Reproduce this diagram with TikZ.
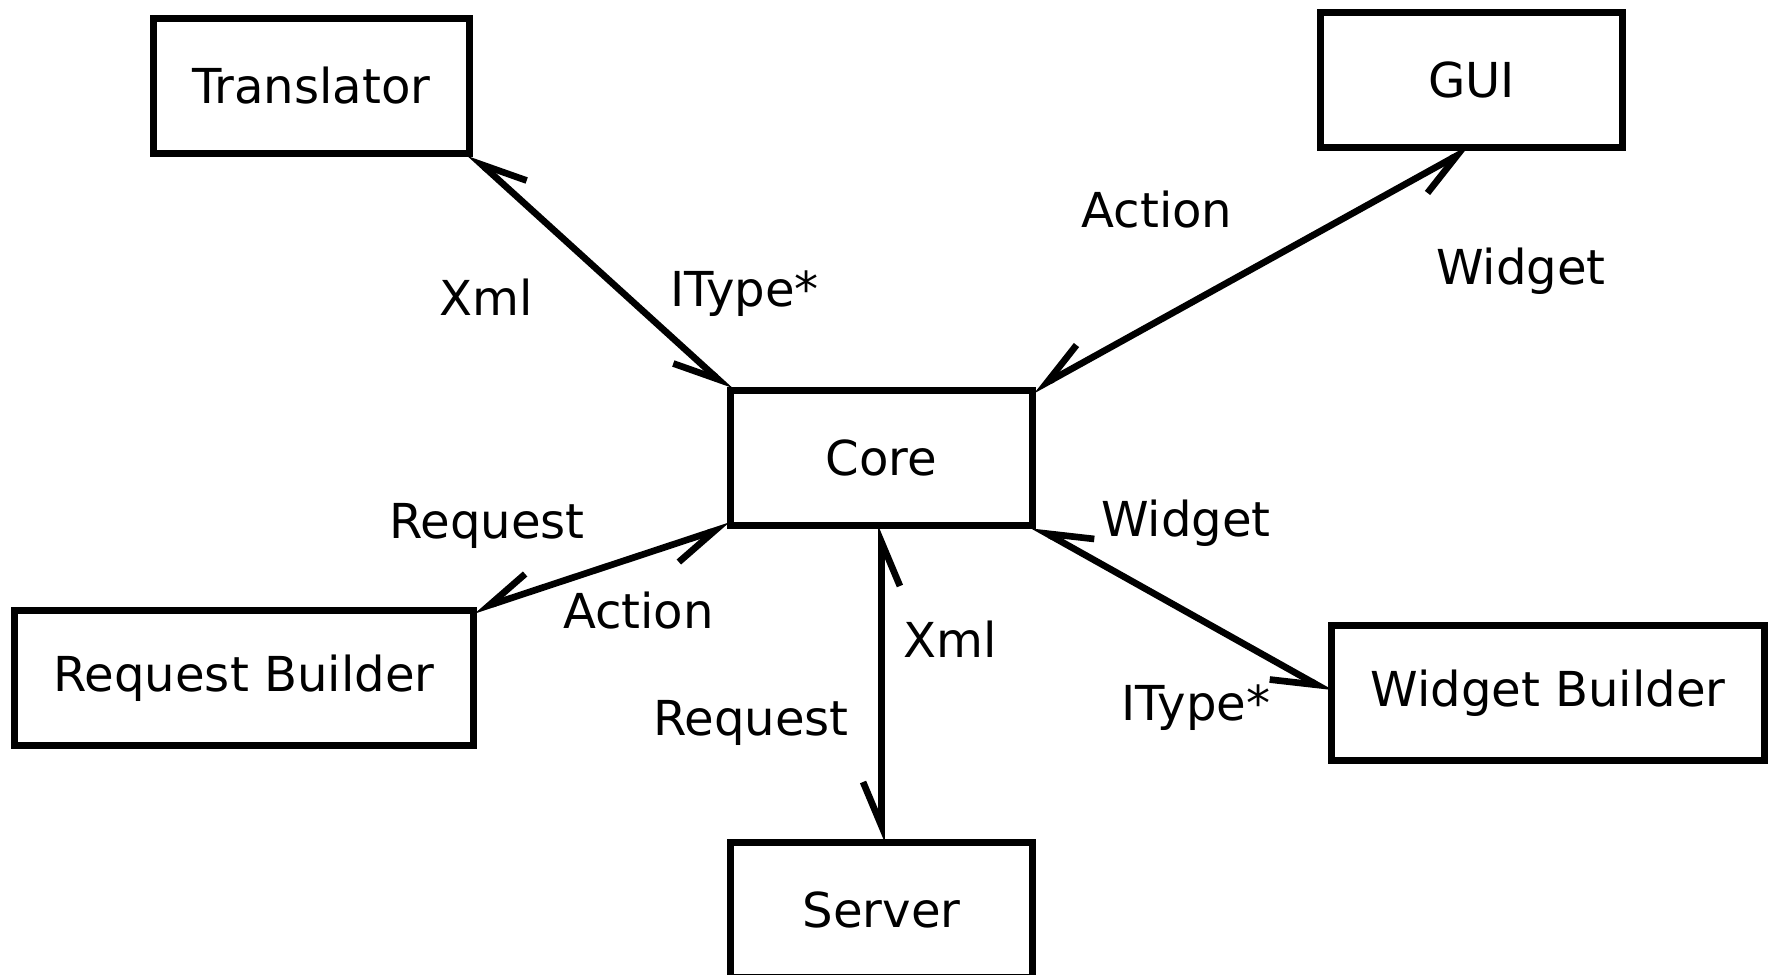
\documentclass[tikz,border=0pt]{standalone}
\usepackage{fontspec}
\setmainfont{DejaVu Sans}
\usepackage{tikz}
\usetikzlibrary{positioning, arrows.meta}

\begin{document}
\begin{tikzpicture}[
    font=\fontsize{13.7}{16}\selectfont,
    box/.style={draw, line width=1.9pt, outer sep=0pt, inner xsep=0.39cm,
      minimum width=3.02cm, minimum height=1.35cm},
    link/.style={draw, line width=1.9pt,
      >={Straight Barb[harpoon,swap,length=12.5pt,width=10.5pt]}, <->},
    lbl/.style={anchor=base}
  ]
    \useasboundingbox (-8.815,-5.17) rectangle (8.925,4.58);

    \node[box] (core) at (0,0) {Core};
    \node[box] (trans) [above left= 2.37cm and 2.61cm of core] {Translator};
    \node[box] (gui) [above right= 2.43cm and 2.88cm of core] {GUI};
    \node[box] (reqb) [below left= 0.85cm and 2.57cm of core] {Request Builder};
    \node[box] (wgtb) [below right= 1.00cm and 2.99cm of core] {Widget Builder};
    \node[box] (server) [below= 3.17cm of core] {Server};

    \node[lbl] (xmlT) at (-3.955,1.43) {Xml};
    \node[lbl] (itypeT) at (-1.37,1.52) {IType*};
    \node[lbl] (actionT) at (2.755,2.31) {Action};
    \node[lbl] (widgetT) at (6.395,1.74) {Widget};
    \node[lbl] (requestL) at (-3.945,-0.80) {Request};
    \node[lbl] (actionL) at (-2.43,-1.70) {Action};
    \node[lbl] (widgetR) at (3.045,-0.78) {Widget};
    \node[lbl] (xmlB) at (0.685,-1.99) {Xml};
    \node[lbl] (requestB) at (-1.305,-2.77) {Request};
    \node[lbl] (itypeR) at (3.145,-2.62) {IType*};

    \path
    (core.north west) edge[link] (trans.south east)
    (core.north east) edge[link] (gui.south)
    (core.south west) edge[link] (reqb.north east)
    (core.south) edge[link] (server.north)
    (core.south east) edge[link] (wgtb.west);
  \end{tikzpicture}
\end{document}
